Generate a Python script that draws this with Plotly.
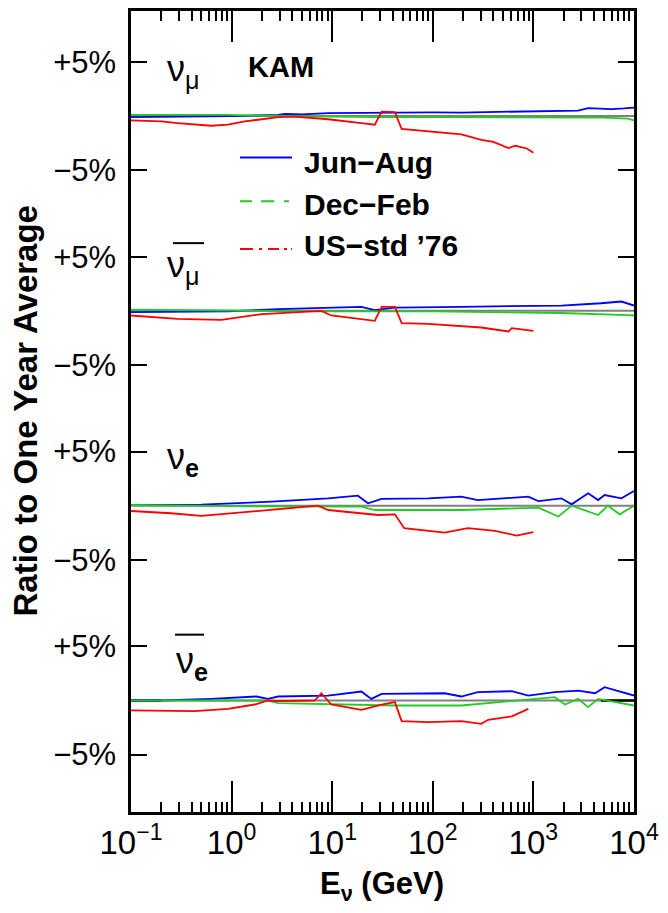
import plotly.graph_objects as go

# ---------------- data (percent deviation from one-year average) ----------------
panels = ["numu", "numubar", "nue", "nuebar"]
offsets = {"numu": 54, "numubar": 36, "nue": 18, "nuebar": 0}

# nu_mu
numu_jun_E = [0.1, 0.3, 0.5, 1.0, 2.9, 3.4, 5.0, 9.1, 20, 42, 100, 192, 400, 890, 1900, 2780, 3500, 5900, 8000, 10000]
numu_jun_r = [-0.1, -0.08, -0.05, 0.0, 0.1, 0.2, 0.15, 0.26, 0.28, 0.32, 0.33, 0.32, 0.38, 0.41, 0.45, 0.5, 0.72, 0.63, 0.7, 0.78]
numu_dec_E = [0.1, 0.9, 2.9, 9.1, 26.5, 31, 100, 1000, 5000, 8700, 10000]
numu_dec_r = [0.1, 0.1, 0.0, -0.05, -0.12, -0.1, -0.1, -0.1, -0.15, -0.25, -0.4]
numu_us_E = [0.1, 0.2, 0.29, 0.43, 0.63, 0.92, 1.35, 2.0, 2.9, 4.2, 6.2, 9.1, 19.5, 26.5, 31, 42, 49, 192, 303, 400, 565, 660, 860, 1000]
numu_us_r = [-0.41, -0.5, -0.65, -0.75, -0.9, -0.8, -0.5, -0.3, -0.1, -0.05, -0.15, -0.3, -0.65, -0.8, 0.4, 0.35, -1.2, -1.7, -2.2, -2.4, -2.96, -2.75, -3.0, -3.4]

# anti nu_mu
numubar_jun_E = [0.1, 0.5, 0.92, 2.9, 7.8, 19.5, 26.5, 42, 192, 890, 1900, 4700, 7500, 10000]
numubar_jun_r = [-0.12, -0.1, -0.05, 0.15, 0.3, 0.37, 0.06, 0.3, 0.37, 0.43, 0.49, 0.7, 0.86, 0.49]
numubar_dec_E = [0.1, 1.0, 10, 100, 1900, 8700, 10000]
numubar_dec_r = [0.1, 0.0, -0.05, -0.05, -0.2, -0.4, -0.43]
numubar_us_E = [0.1, 0.29, 0.79, 2.0, 7.8, 9.8, 26.5, 31, 42, 49, 90, 192, 303, 565, 610, 1000]
numubar_us_r = [-0.43, -0.74, -0.83, -0.3, 0.0, -0.43, -0.92, 0.37, 0.37, -1.14, -1.2, -1.39, -1.54, -1.91, -1.6, -1.85]

# nu_e
nue_jun_E = [0.1, 0.5, 2.5, 9.1, 18, 22.7, 31, 90, 192, 280, 890, 1120, 1900, 2400, 3500, 4400, 5100, 7500, 10000]
nue_jun_r = [0.06, 0.1, 0.37, 0.68, 0.92, 0.22, 0.62, 0.68, 0.83, 0.52, 0.83, 0.43, 0.68, 0.12, 1.14, 0.52, 0.98, 0.68, 1.35]
nue_dec_E = [0.1, 1.0, 19.5, 26.5, 192, 1120, 1770, 2400, 4400, 5500, 7200, 10000]
nue_dec_r = [0.06, -0.05, -0.09, -0.4, -0.4, -0.18, -1.0, 0.0, -0.86, 0.0, -0.8, 0.0]
nue_us_E = [0.1, 0.25, 0.5, 1.35, 2.5, 7.2, 9.1, 19.5, 28.5, 42, 52, 131, 223, 415, 680, 1000]
nue_us_r = [-0.49, -0.7, -0.95, -0.61, -0.33, 0.0, -0.4, -0.7, -0.86, -0.8, -2.08, -2.48, -2.08, -2.33, -2.76, -2.45]

# anti nu_e
nuebar_jun_E = [0.1, 0.2, 0.63, 1.76, 2.3, 2.9, 9.1, 19.5, 24.5, 31, 131, 192, 280, 610, 890, 1630, 2780, 4100, 5100, 7500, 10000]
nuebar_jun_r = [0.0, 0.0, 0.15, 0.37, 0.15, 0.37, 0.46, 0.83, 0.15, 0.61, 0.67, 0.37, 0.77, 0.86, 0.46, 0.77, 0.92, 0.67, 1.23, 0.77, 0.46]
nuebar_dec_E = [0.1, 2.3, 2.9, 9.1, 42, 192, 1630, 2060, 2780, 3500, 4400, 10000]
nuebar_dec_r = [0.0, 0.0, -0.25, -0.37, -0.46, -0.46, 0.31, -0.37, 0.15, -0.61, 0.15, -0.46]
nuebar_us_E = [0.1, 0.43, 0.92, 1.7, 2.3, 2.9, 6.7, 7.8, 9.8, 19.5, 31, 42, 49, 90, 192, 303, 355, 610, 890]
nuebar_us_r = [-0.92, -0.98, -0.77, -0.37, 0.0, -0.06, 0.0, 0.67, -0.37, -0.86, -0.37, -0.15, -1.9, -2.0, -1.9, -2.15, -1.78, -1.47, -0.77]

series = {
    "numu": [(numu_jun_E, numu_jun_r), (numu_dec_E, numu_dec_r), (numu_us_E, numu_us_r)],
    "numubar": [(numubar_jun_E, numubar_jun_r), (numubar_dec_E, numubar_dec_r), (numubar_us_E, numubar_us_r)],
    "nue": [(nue_jun_E, nue_jun_r), (nue_dec_E, nue_dec_r), (nue_us_E, nue_us_r)],
    "nuebar": [(nuebar_jun_E, nuebar_jun_r), (nuebar_dec_E, nuebar_dec_r), (nuebar_us_E, nuebar_us_r)],
}
series_names = ["Jun\u2212Aug", "Dec\u2212Feb", "US\u2212std \u201976"]
colors = ["#0000ff", "#22cc22", "#ff0000"]

x_tickvals = [0.1, 1, 10, 100, 1000, 10000]
x_ticktext = ["10<sup>\u22121</sup>", "10<sup>0</sup>", "10<sup>1</sup>", "10<sup>2</sup>", "10<sup>3</sup>", "10<sup>4</sup>"]

# ---------------- figure ----------------
fig = go.Figure()
for p in panels:
    off = offsets[p]
    for (E, r), name, c in zip(series[p], series_names, colors):
        fig.add_trace(go.Scatter(x=E, y=[v + off for v in r], mode="lines",
                                 line=dict(color=c, width=1.8), name=name, showlegend=False))

W, H = 668, 913
L, R, T, B = 131, 34, 8, 101
pw, ph = W - L - R, H - T - B

def px(x):
    return (x - L) / pw

def py(y):
    return (H - B - y) / ph

shapes = []
# zero reference lines
for p in panels:
    shapes.append(dict(type="line", xref="paper", yref="y", x0=0, x1=1, y0=offsets[p], y1=offsets[p],
                       line=dict(color="#808080", width=2), layer="below"))
for (a, b) in [(0.1, 0.2), (4700, 10000)]:
    shapes.append(dict(type="line", xref="x", yref="y", x0=a, x1=b, y0=0, y1=0,
                       line=dict(color="black", width=2.5), layer="below"))

# legend (drawn manually)
leg_y = [155, 199, 247]
leg_dash = ["solid", "12px,9px,13px,10px,5px,4px", "13px,6px,3px,6px,11px,5px,3px,4px,3px"]
for yy, c, d in zip(leg_y, colors, leg_dash):
    shapes.append(dict(type="line", xref="paper", yref="paper", x0=px(240), x1=px(292), y0=py(yy), y1=py(yy),
                       line=dict(color=c, width=2, dash=d)))

# overbars for antineutrinos
for (x0, x1, yy) in [(173, 204, 241), (175, 204, 634)]:
    shapes.append(dict(type="line", xref="paper", yref="paper", x0=px(x0), x1=px(x1), y0=py(yy), y1=py(yy),
                       line=dict(color="black", width=2)))

ann = []
font_main = "Liberation Sans, Arial, Helvetica, sans-serif"
for text, yy in zip(series_names, [160, 202, 243]):
    ann.append(dict(text="<b>%s</b>" % text, xref="paper", yref="paper", x=px(302), y=py(yy),
                    xanchor="left", yanchor="middle", showarrow=False,
                    font=dict(size=30, color="black", family=font_main)))

ann.append(dict(text="<b>KAM</b>", xref="paper", yref="paper", x=px(246), y=py(64),
                xanchor="left", yanchor="middle", showarrow=False,
                font=dict(size=29, color="black", family=font_main)))

labels = [("\u03bd<sub>\u03bc</sub>", 165, 68), ("\u03bd<sub>\u03bc</sub>", 165, 265),
          ("\u03bd<sub><b>e</b></sub>", 165, 458), ("\u03bd<sub><b>e</b></sub>", 174, 662)]
for t, xx, yy in labels:
    ann.append(dict(text=t, xref="paper", yref="paper", x=px(xx), y=py(yy),
                    xanchor="left", yanchor="middle", showarrow=False,
                    font=dict(size=36, color="black", family=font_main)))

ann.append(dict(text="<b>Ratio to One Year Average</b>", xref="paper", yref="paper",
                x=px(25), y=py(410), xanchor="center", yanchor="middle", textangle=-90,
                showarrow=False, font=dict(size=33, color="black", family=font_main)))
ann.append(dict(text="<b>E<sub>\u03bd</sub> (GeV)</b>", xref="paper", yref="paper",
                x=px(382), y=py(886), xanchor="center", yanchor="middle",
                showarrow=False, font=dict(size=31, color="black", family=font_main)))

y_tickvals = []
y_ticktext = []
for p in panels:
    y_tickvals += [offsets[p] + 5, offsets[p] - 5]
    y_ticktext += ["+5%", "\u22125%"]

minor_vals = [m * 10 ** k for k in range(-1, 4) for m in range(2, 10)]

fig.update_layout(
    width=W, height=H,
    margin=dict(l=L, r=R, t=T, b=B),
    paper_bgcolor="white", plot_bgcolor="white",
    showlegend=False,
    shapes=shapes, annotations=ann,
    font=dict(family=font_main, color="black"),
    xaxis=dict(type="log", range=[-1, 4], showline=True, linecolor="black", linewidth=2.5,
               mirror="ticks", ticks="inside", ticklen=31, tickwidth=1.5, tickcolor="black",
               tickvals=x_tickvals, ticktext=x_ticktext, showgrid=False, zeroline=False,
               tickfont=dict(size=33, color="black", family=font_main),
               minor=dict(tickvals=minor_vals, ticks="inside", ticklen=10, tickwidth=1.5,
                          tickcolor="black", showgrid=False)),
    yaxis=dict(range=[-10.3, 63.7], showline=True, linecolor="black", linewidth=2.5,
               mirror="ticks", ticks="inside", ticklen=16, tickwidth=1.5, tickcolor="black",
               tickvals=y_tickvals, ticktext=y_ticktext, showgrid=False, zeroline=False,
               ticklabelstandoff=6,
               tickfont=dict(size=31, color="black", family=font_main)),
)

fig.write_html("out.html")
